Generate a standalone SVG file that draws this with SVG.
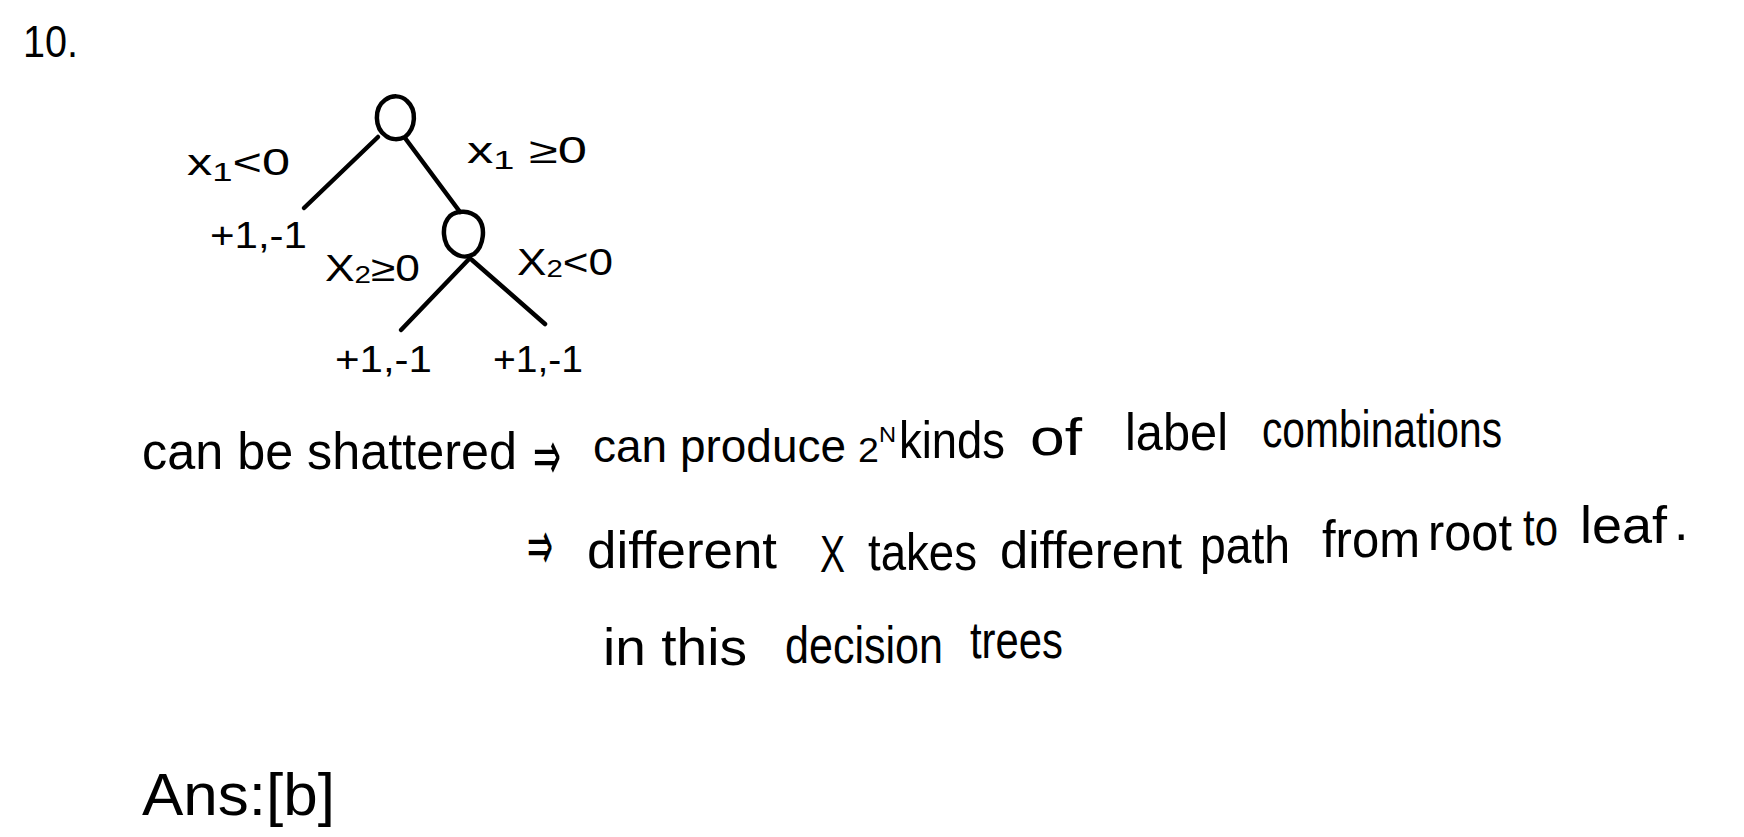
<svg xmlns="http://www.w3.org/2000/svg" width="1744" height="837" viewBox="0 0 1744 837">
<style>
text{font-family:"Liberation Sans","DejaVu Sans",sans-serif;fill:#000}
.m{font-size:52px}
.tl{font-size:36px}
.lf{font-size:36px}
.ar{font-family:"DejaVu Sans",sans-serif;font-size:72px}
.e{stroke:#000;stroke-width:4.5;fill:none;stroke-linecap:round}
</style>
<rect width="1744" height="837" fill="#fff"/>
<text x="23" y="57" font-size="44" textLength="55" lengthAdjust="spacingAndGlyphs">10.</text>

<g id="root"><path class="e" d="M386,136 C374,128 374,108 385,100 C392,95 401,95 407,101 C417,110 416,128 405,137 C399,140 391,140 386,136 Z"/></g>
<g id="node2"><path class="e" d="M453,252 C442,244 441,225 450,216 C457,210 470,210 478,218 C486,227 484,246 474,254 C467,258 459,257 453,252 Z"/></g>
<g id="leaf-left"><text class="lf" x="210" y="248" textLength="97" lengthAdjust="spacingAndGlyphs">+1,-1</text></g>
<g id="leaf-mid"><text class="lf" x="335" y="372" textLength="97" lengthAdjust="spacingAndGlyphs">+1,-1</text></g>
<g id="leaf-right"><text class="lf" x="493" y="372" textLength="90" lengthAdjust="spacingAndGlyphs">+1,-1</text></g>

<g id="connectors">
<line class="e" x1="378" y1="137" x2="304" y2="208"/>
<line class="e" x1="405" y1="138" x2="460" y2="212"/>
<line class="e" x1="470" y1="258" x2="401" y2="330"/>
<line class="e" x1="472" y1="260" x2="545" y2="324"/>
<text class="tl" x="187" y="175" textLength="103" lengthAdjust="spacingAndGlyphs">x<tspan font-size="26" dy="6">1</tspan><tspan dy="-6">&lt;0</tspan></text>
<text class="tl" x="467" y="163" textLength="120" lengthAdjust="spacingAndGlyphs">x<tspan font-size="26" dy="6">1</tspan><tspan dy="-6"> ≥0</tspan></text>
<text class="tl" x="325" y="281" textLength="95" lengthAdjust="spacingAndGlyphs">X<tspan font-size="24" dy="2">2</tspan><tspan dy="-2">≥0</tspan></text>
<text class="tl" x="517" y="275" textLength="96" lengthAdjust="spacingAndGlyphs">X<tspan font-size="24" dy="2">2</tspan><tspan dy="-2">&lt;0</tspan></text>
</g>

<g id="line1">
<text class="m" x="142" y="469" textLength="375" lengthAdjust="spacingAndGlyphs">can be shattered</text>
<text class="ar" x="533" y="480" textLength="28" lengthAdjust="spacingAndGlyphs">⇒</text>
<text x="593" y="462" font-size="47" textLength="253" lengthAdjust="spacingAndGlyphs">can produce</text>
<text x="858" y="462" font-size="35" textLength="38" lengthAdjust="spacingAndGlyphs">2<tspan font-size="22" dy="-20">N</tspan></text>
<text class="m" x="899" y="458" textLength="106" lengthAdjust="spacingAndGlyphs">kinds</text>
<text class="m" x="1030" y="455" textLength="52" lengthAdjust="spacingAndGlyphs">of</text>
<text class="m" x="1125" y="450" textLength="103" lengthAdjust="spacingAndGlyphs">label</text>
<text class="m" x="1262" y="447" textLength="240" lengthAdjust="spacingAndGlyphs">combinations</text>
</g>

<g id="line2">
<text class="ar" x="527" y="570" textLength="26" lengthAdjust="spacingAndGlyphs">⇒</text>
<text class="m" x="587" y="568" textLength="190" lengthAdjust="spacingAndGlyphs">different</text>
<text class="m" x="820" y="572" textLength="25" lengthAdjust="spacingAndGlyphs">X</text>
<text class="m" x="868" y="570" textLength="109" lengthAdjust="spacingAndGlyphs">takes</text>
<text class="m" x="1000" y="568" textLength="182" lengthAdjust="spacingAndGlyphs">different</text>
<text class="m" x="1200" y="563" textLength="90" lengthAdjust="spacingAndGlyphs">path</text>
<text class="m" x="1322" y="557" textLength="98" lengthAdjust="spacingAndGlyphs">from</text>
<text class="m" x="1428" y="550" textLength="84" lengthAdjust="spacingAndGlyphs">root</text>
<text class="m" x="1523" y="545" textLength="35" lengthAdjust="spacingAndGlyphs">to</text>
<text class="m" x="1580" y="543" textLength="87" lengthAdjust="spacingAndGlyphs">leaf</text>
<text class="m" x="1674" y="540">.</text>
</g>

<g id="line3">
<text class="m" x="603" y="665" textLength="144" lengthAdjust="spacingAndGlyphs">in this</text>
<text class="m" x="785" y="663" textLength="158" lengthAdjust="spacingAndGlyphs">decision</text>
<text class="m" x="970" y="658" textLength="93" lengthAdjust="spacingAndGlyphs">trees</text>
</g>

<text x="142" y="815" font-size="60" textLength="193" lengthAdjust="spacingAndGlyphs">Ans:[b]</text>
</svg>
